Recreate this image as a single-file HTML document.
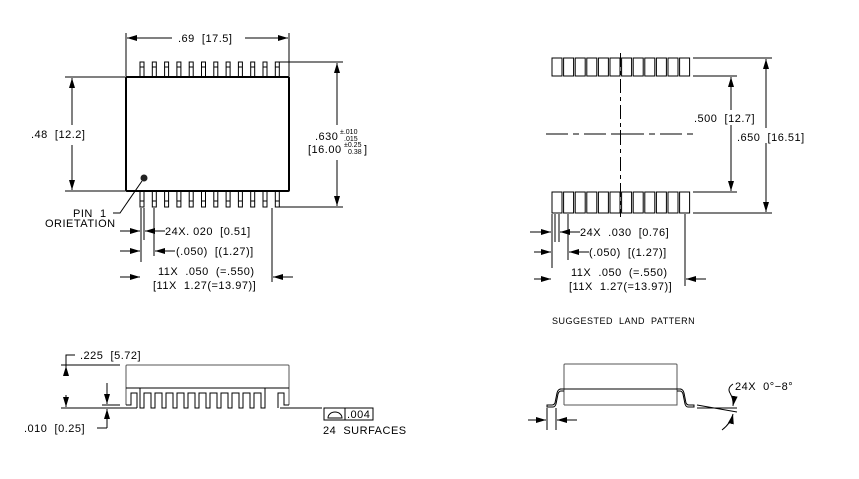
<!DOCTYPE html>
<html><head><meta charset="utf-8"><style>
html,body{margin:0;padding:0;background:#fff;}
svg{display:block;}
text{font-family:"Liberation Sans",sans-serif;font-size:11px;letter-spacing:0.5px;fill:#000;white-space:pre;}
</style></head><body>
<svg width="859" height="479" viewBox="0 0 859 479" xmlns="http://www.w3.org/2000/svg" xml:space="preserve">
<defs>
<marker id="a" viewBox="0 0 10 6" refX="10" refY="3" markerWidth="10" markerHeight="6" orient="auto-start-reverse" markerUnits="userSpaceOnUse"><path d="M0,0 L10,3 L0,6 z" fill="#000"/></marker>
</defs>
<g stroke="#000" stroke-width="1" fill="none">
<rect x="126" y="77" width="163" height="114" stroke-width="2" rx="1"/>
<path d="M140,77V62h4V77 M152.3,77V62h4V77 M164.6,77V62h4V77 M176.9,77V62h4V77 M189.2,77V62h4V77 M201.5,77V62h4V77 M213.8,77V62h4V77 M226.1,77V62h4V77 M238.4,77V62h4V77 M250.7,77V62h4V77 M263,77V62h4V77 M275.3,77V62h4V77"/>
<path d="M140,191V207h4V191 M152.3,191V207h4V191 M164.6,191V207h4V191 M176.9,191V207h4V191 M189.2,191V207h4V191 M201.5,191V207h4V191 M213.8,191V207h4V191 M226.1,191V207h4V191 M238.4,191V207h4V191 M250.7,191V207h4V191 M263,191V207h4V191 M275.3,191V207h4V191"/>
<path d="M140,201h4 M152.3,201h4 M164.6,201h4 M176.9,201h4 M189.2,201h4 M201.5,201h4 M213.8,201h4 M226.1,201h4 M238.4,201h4 M250.7,201h4 M263,201h4 M275.3,201h4"/>
<path d="M140,67h4 M152.3,67h4 M164.6,67h4 M176.9,67h4 M189.2,67h4 M201.5,67h4 M213.8,67h4 M226.1,67h4 M238.4,67h4 M250.7,67h4 M263,67h4 M275.3,67h4"/>
<path d="M126,33V76 M289,33V76"/>
<path d="M172,38H127" marker-end="url(#a)"/><path d="M245,38H288" marker-end="url(#a)"/>
<path d="M65,77H125 M65,191H125"/>
<path d="M72,125V78" marker-end="url(#a)"/><path d="M72,145V190" marker-end="url(#a)"/>
<path d="M279,62H343 M279,207H343"/>
<path d="M337,125V63" marker-end="url(#a)"/><path d="M337,160V206" marker-end="url(#a)"/>
<path d="M142,181L120,213H113"/>
<path d="M141,208V262 M144,208V240 M154,208V256 M272,208V282"/>
<path d="M120,231H140" marker-end="url(#a)"/><path d="M165,231H145" marker-end="url(#a)"/>
<path d="M120,251H140" marker-end="url(#a)"/><path d="M175,251H155" marker-end="url(#a)"/>
<path d="M120,277H140" marker-end="url(#a)"/><path d="M293,277H273" marker-end="url(#a)"/>
</g>
<circle cx="144" cy="178" r="3.5" fill="#222"/>
<text x="178" y="42">.69  [17.5]</text>
<text x="31" y="138">.48  [12.2]</text>
<text x="315" y="140">.630</text>
<text x="340" y="134" style="font-size:7px;letter-spacing:0">±.010</text>
<text x="344" y="141" style="font-size:7px;letter-spacing:0">.015</text>
<text x="308" y="153">[16.00</text>
<text x="344" y="147" style="font-size:7px;letter-spacing:0">±0.25</text>
<text x="348" y="154" style="font-size:7px;letter-spacing:0">0.38</text>
<text x="364" y="153">]</text>
<text x="73" y="217">PIN  1</text>
<text x="45" y="227">ORIETATION</text>
<text x="165" y="235">24X. 020  [0.51]</text>
<text x="176" y="255">(.050)  [(1.27)]</text>
<text x="158" y="275">11X  .050  (=.550)</text>
<text x="153" y="289">[11X  1.27(=13.97)]</text>

<g stroke="#000" stroke-width="1" fill="none">
<path d="M552,58h10v18h-10z M563.6,58h10v18h-10z M575.2,58h10v18h-10z M586.8,58h10v18h-10z M598.4,58h10v18h-10z M610,58h10v18h-10z M621.6,58h10v18h-10z M633.2,58h10v18h-10z M644.8,58h10v18h-10z M656.4,58h10v18h-10z M668,58h10v18h-10z M679.6,58h10v18h-10z"/>
<path d="M552,192h10v21h-10z M563.6,192h10v21h-10z M575.2,192h10v21h-10z M586.8,192h10v21h-10z M598.4,192h10v21h-10z M610,192h10v21h-10z M621.6,192h10v21h-10z M633.2,192h10v21h-10z M644.8,192h10v21h-10z M656.4,192h10v21h-10z M668,192h10v21h-10z M679.6,192h10v21h-10z"/>
<path d="M620.5,53V217" stroke-dasharray="14,4,4,4"/>
<path d="M546,134H695" stroke-dasharray="22,5,6,5"/>
<path d="M620.5,130V138 M616,134H625"/>
<path d="M693,58H772 M693,76H737 M693,192H737 M693,213H772"/>
<path d="M731,110V77" marker-end="url(#a)"/><path d="M731,125V191" marker-end="url(#a)"/>
<path d="M766,128V59" marker-end="url(#a)"/><path d="M766,143V212" marker-end="url(#a)"/>
<path d="M552,214V268 M555,214V242 M559,214V242 M568,214V260 M685,214V286"/>
<path d="M530,232H551" marker-end="url(#a)"/><path d="M580,232H560" marker-end="url(#a)"/>
<path d="M534,252H551" marker-end="url(#a)"/><path d="M589,252H569" marker-end="url(#a)"/>
<path d="M534,279H551" marker-end="url(#a)"/><path d="M706,279H686" marker-end="url(#a)"/>
</g>
<text x="694" y="122">.500  [12.7]</text>
<text x="737" y="141">.650  [16.51]</text>
<text x="580" y="236">24X  .030  [0.76]</text>
<text x="589" y="256">(.050)  [(1.27)]</text>
<text x="571" y="276">11X  .050  (=.550)</text>
<text x="569" y="290">[11X  1.27(=13.97)]</text>
<text x="552" y="324" style="font-size:9px">SUGGESTED  LAND  PATTERN</text>

<g stroke="#000" stroke-width="1" fill="none">
<path d="M126,405V366Q126,365 127,365H288Q289,365 289,366V405" stroke="#555"/>
<path d="M126,388H289"/>
<path d="M126,405h5V393h6v15 M289,405h-5V393h-6v15"/>
<path d="M140,388V408h4V393h7v15h4V393h7v15h4V393h7v15h4V393h7v15h4V393h7v15h4V393h7v15h4V393h7v15h4V393h7v15h4V393h7v15h4V393h7v15h4V393h7v15h4V388"/>
<path d="M61,408H137 M280,408H322 M61,365H120"/>
<path d="M66,375V366" marker-end="url(#a)"/><path d="M66,395V407" marker-end="url(#a)"/>
<path d="M66,375V355H75"/>
<path d="M102,405H120"/>
<path d="M107,383V404" marker-end="url(#a)"/><path d="M107,428V409" marker-end="url(#a)"/>
<path d="M107,428H97"/>
<rect x="324" y="408" width="49" height="12"/>
<path d="M345,408V420"/>
<path d="M328,418A7,6 0 0 1 342,418Z"/>
</g>
<text x="80" y="359">.225  [5.72]</text>
<text x="24" y="432">.010  [0.25]</text>
<text x="347" y="418">.004</text>
<text x="323" y="434">24  SURFACES</text>

<g stroke="#000" stroke-width="1" fill="none">
<path d="M564,405V365Q564,364 565,364H676Q677,364 677,365V405H564" stroke="#555"/>
<path d="M560,389H681"/>
<path d="M564,389h-3q-3,0 -4,4l-2,10q-1,2 -3,2h-5v2h6q2,0 3,-3l2,-10q1,-3 3,-3h3"/>
<path d="M677,389h3q3,0 4,4l2,10q1,2 3,2h5v2h-6q-2,0 -3,-3l-2,-10q-1,-3 -3,-3h-3"/>
<path d="M547,408V430 M556,408V430"/>
<path d="M528,420H546" marker-end="url(#a)"/><path d="M577,420H557" marker-end="url(#a)"/>
<path d="M697,405L737,412 M697,408H737"/>
<path d="M730,393Q734,400 733,406" marker-end="url(#a)"/>
<path d="M722,430Q731,423 733,414" marker-end="url(#a)"/>
<path d="M730,393Q727,388 733,384"/>
</g>
<text x="735" y="390">24X  0°−8°</text>
</svg>
</body></html>
